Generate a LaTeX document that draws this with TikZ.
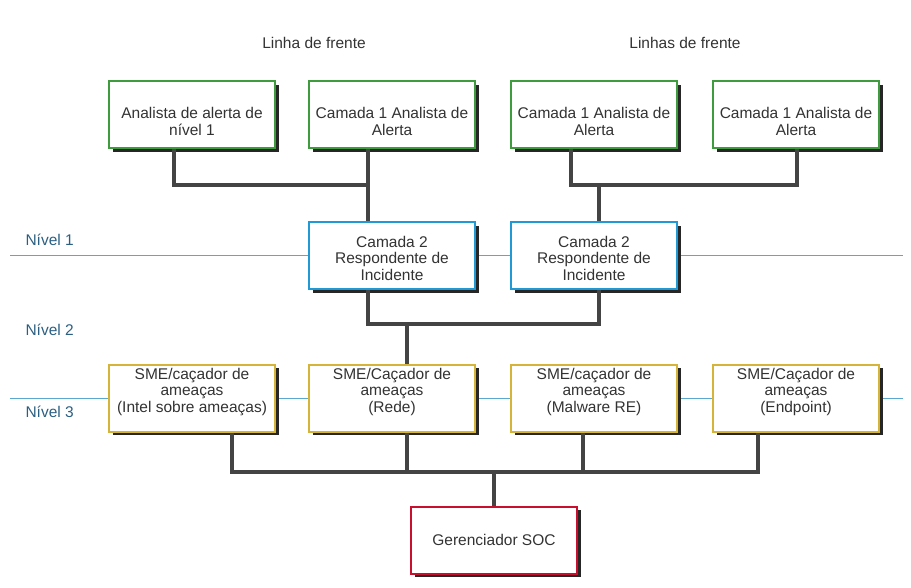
\documentclass[tikz,border=0pt]{standalone}
\usepackage{fontspec}
\setmainfont{Liberation Sans}
\usepackage{xcolor}
\usetikzlibrary{positioning,shadows,calc}

\definecolor{txtgray}{HTML}{333333}
\definecolor{lvlblue}{HTML}{2B5F82}
\definecolor{lvlline}{HTML}{5AA8CF}
\definecolor{wiregray}{HTML}{444444}
\definecolor{boxgreen}{HTML}{3E9B3E}
\definecolor{boxblue}{HTML}{1F9AD6}
\definecolor{boxyellow}{HTML}{D6B43A}
\definecolor{boxred}{HTML}{C8102E}

\begin{document}
\begin{tikzpicture}[
          x=1pt, y=-1pt,
          lbl/.style={font=\fontsize{15.5}{17}\selectfont, text=txtgray},
          lvl/.style={font=\fontsize{15.5}{17}\selectfont, text=lvlblue, anchor=west},
          card/.style={draw, line width=2pt, fill=white, align=center,
            minimum width=166pt, minimum height=67pt, inner sep=1pt,
            font=\fontsize{15.5}{16.5}\selectfont, text=txtgray,
            drop shadow={shadow xshift=3.5pt, shadow yshift=-3.5pt, fill=black!85, opacity=1}},
          front/.style={card, draw=boxgreen, text height=45pt, text depth=4pt},
          resp/.style={card, draw=boxblue, text height=52pt, text depth=3.4pt},
          hunter/.style={card, draw=boxyellow, text height=44pt, text depth=15.4pt},
          boss/.style={card, draw=boxred},
          wire/.style={draw=wiregray, line width=3.5pt}
      ]
        \useasboundingbox (0,0) rectangle (911,588);
        % level lines
        \draw[lvlline, line width=1pt] (10,256) -- (903,256);
        \draw[lvlline, line width=1pt] (10,398) -- (903,398);
        \node[lvl] (lv1) at (22,240) {Nível 1};
        \node[lvl] (lv2) at (22,330) {Nível 2};
        \node[lvl] (lv3) at (22,412) {Nível 3};
        \node[lbl] (hd1) at (314,43) {Linha de frente};
        \node[lbl] (hd2) at (685,43) {Linhas de frente};
        % tier 1
        \node[front] (t1a) at (192,115) {Analista de alerta de\\nível 1};
        \node[front] (t1b) at (392,115) {Camada 1 Analista de\\Alerta};
        \node[front] (t1c) at (594,115) {Camada 1 Analista de\\Alerta};
        \node[front] (t1d) at (796,115) {Camada 1 Analista de\\Alerta};
        % tier 2
        \node[resp] (t2a) at (392,256) {Camada 2\\Respondente de\\Incidente};
        \node[resp] (t2b) at (594,256) {Camada 2\\Respondente de\\Incidente};
        % tier 3
        \node[hunter] (t3a) at (192,398) {SME/caçador de\\ameaças\\(Intel sobre ameaças)};
        \node[hunter] (t3b) at (392,398) {SME/Caçador de\\ameaças\\(Rede)};
        \node[hunter] (t3c) at (594,398) {SME/caçador de\\ameaças\\(Malware RE)};
        \node[hunter] (t3d) at (796,398) {SME/Caçador de\\ameaças\\(Endpoint)};
        % manager
        \node[boss] (mgr) at (494,540) {Gerenciador SOC};
        % junctions
        \coordinate (j1) at (368,185);
        \coordinate (j2) at (599,185);
        \coordinate (j3) at (407,324);
        \coordinate (j4) at (494,472);
        % wiring
        \draw[wire] ($(t1a.south)+(-18,0)$) |- (j1) -| ($(t1b.south)+(-24,0)$);
        \draw[wire] (j1) -- (j1 |- t2a.north);
        \draw[wire] ($(t1c.south)+(-23,0)$) |- (j2) -| ($(t1d.south)+(1,0)$);
        \draw[wire] (j2) -- (j2 |- t2b.north);
        \draw[wire] ($(t2a.south)+(-24,0)$) |- (j3) -| ($(t2b.south)+(5,0)$);
        \draw[wire] (j3) -- (j3 |- t3b.north);
        \draw[wire] ($(t3a.south)+(40,0)$) |- (j4) -| ($(t3d.south)+(-38,0)$);
        \draw[wire] ($(t3b.south)+(15,0)$) -- ++(0,40);
        \draw[wire] ($(t3c.south)+(-11,0)$) -- ++(0,40);
        \draw[wire] (j4) -- (mgr.north);
      \end{tikzpicture}
\end{document}
